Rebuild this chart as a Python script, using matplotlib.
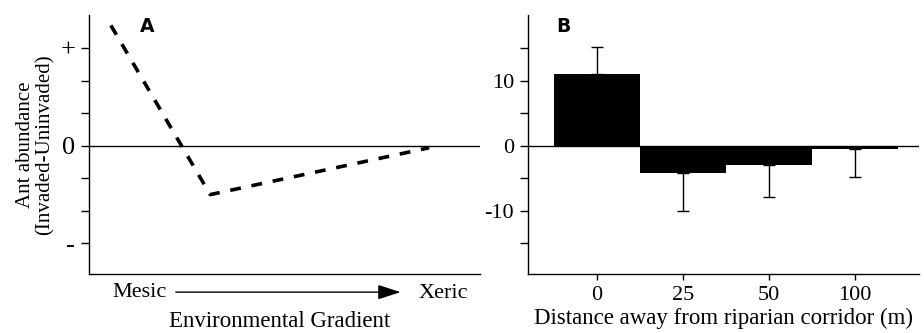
import matplotlib
matplotlib.use('Agg')
import matplotlib.pyplot as plt

plt.rcParams['font.family'] = ['Liberation Serif', 'DejaVu Serif']

# Panel A: conceptual trend along the environmental gradient
gradient_x = [0.056, 0.31, 0.87]
gradient_y = [18.5, -7.5, -0.3]
a_ticks = [-15, -10, -5, 0, 5, 10, 15]
a_ticklabels = ['-', '', '', '0', '', '', '+']

# Panel B: difference by distance from riparian corridor
distances = ['0', '25', '50', '100']
diff_mean = [11.0, -4.2, -3.0, -0.5]
diff_err = [4.2, 5.8, 4.8, 4.3]
b_ticks = [-15, -10, -5, 0, 5, 10, 15]
b_ticklabels = ['', '-10', '', '0', '', '10', '']

fig = plt.figure(figsize=(9.24, 3.33), dpi=100)
W, H = 924, 333
axA = fig.add_axes([89 / W, 1 - 274 / H, (480 - 89) / W, (274 - 15) / H])
axB = fig.add_axes([528 / W, 1 - 274 / H, (919 - 528) / W, (274 - 15) / H])

for ax in (axA, axB):
    ax.spines['top'].set_visible(False)
    ax.spines['right'].set_visible(False)
    ax.spines['left'].set_linewidth(1.0)
    ax.spines['bottom'].set_linewidth(1.0)
    ax.set_ylim(-19.7, 20.1)
    ax.axhline(0, color='black', lw=1.0, zorder=1)
    ax.tick_params(axis='y', direction='out', length=6, width=1, labelsize=16, pad=4)

# ---- A
axA.plot(gradient_x, gradient_y, color='black', lw=2.6, ls=(0, (3, 3.0)),
         dash_capstyle='butt', clip_on=False)
axA.set_xlim(0, 1)
axA.set_yticks(a_ticks)
axA.set_yticklabels(a_ticklabels, fontsize=19)
axA.set_xticks([])
axA.set_ylabel('Ant abundance\n(Invaded-Uninvaded)', fontsize=15, labelpad=4,
               linespacing=1.0)
axA.text(0.15, 0.955, 'A', transform=axA.transAxes, fontsize=13.5,
         fontweight='bold', family='DejaVu Sans', ha='center', va='center')
axA.text(0.13, -0.07, 'Mesic', transform=axA.transAxes, fontsize=16,
         ha='center', va='center')
axA.text(0.905, -0.075, 'Xeric', transform=axA.transAxes, fontsize=16,
         ha='center', va='center', clip_on=False)
axA.annotate('', xy=(0.797, -0.07), xytext=(0.222, -0.07),
             xycoords='axes fraction', textcoords='axes fraction',
             arrowprops=dict(arrowstyle='-|>,head_length=1.4,head_width=0.45',
                             color='black', lw=1.0, shrinkA=0, shrinkB=0))
axA.text(0.488, -0.185, 'Environmental Gradient', transform=axA.transAxes,
         fontsize=16.5, ha='center', va='center')

# ---- B
xpos = list(range(len(distances)))
axB.bar(xpos, diff_mean, width=1.0, color='black', zorder=2)
for x, m, e in zip(xpos, diff_mean, diff_err):
    sign = 1 if m >= 0 else -1
    axB.errorbar([x], [m], yerr=[[0], [e]] if sign > 0 else [[e], [0]],
                 fmt='none', ecolor='black', elinewidth=1.0, capsize=4,
                 capthick=1.0, zorder=3)
axB.set_xlim(-0.8, 3.74)
axB.set_xticks(xpos)
axB.set_xticklabels(distances)
axB.tick_params(axis='x', direction='out', length=4, width=1, labelsize=16, pad=5)
axB.set_yticks(b_ticks)
axB.set_yticklabels(b_ticklabels)
axB.set_xlabel('Distance away from riparian corridor (m)', fontsize=16.5, labelpad=2)
axB.text(0.09, 0.955, 'B', transform=axB.transAxes, fontsize=13.5,
         fontweight='bold', family='DejaVu Sans', ha='center', va='center')

fig.savefig('out.png', dpi=100)
